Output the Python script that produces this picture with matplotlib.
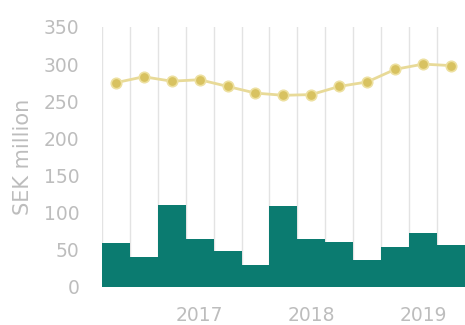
import numpy as np
import matplotlib
matplotlib.use("Agg")
import matplotlib.pyplot as plt

# quarterly values, SEK million
bars = [59, 40, 110, 64, 48, 30, 109, 65, 60, 36, 54, 72, 57]
line = [275, 283, 277, 279, 270, 261, 258, 259, 270, 276, 293, 300, 298]
year_pos = [3, 7, 11]
year_labels = ["2017", "2018", "2019"]

plt.rcParams['font.family'] = ['DejaVu Sans']
grey = "#bdbdbd"

fig = plt.figure(figsize=(4.65, 3.25), dpi=100)
ax = fig.add_axes([0.219, 0.117, 0.781, 0.8])

x = np.arange(len(bars))

# vertical gridlines at bar edges
for e in x - 0.5:
    ax.axvline(e, color="#e3e3e3", lw=1.0, zorder=0)

ax.bar(x, bars, width=1.0, color="#0b7b70", edgecolor="none", zorder=2)
ax.plot(x, line, color="#e8da98", lw=2.0, zorder=3)
ax.plot(x, line, "o", ms=7.5, mfc="#d8c260", mec="#ede0a0", mew=1.2, zorder=4)

ax.set_xlim(-0.5, 12.5)
ax.set_ylim(0, 350)
ax.set_yticks(range(0, 351, 50))
ax.set_xticks(year_pos)
ax.set_xticklabels(year_labels)
ax.tick_params(axis="both", length=0, colors=grey, labelsize=13.5)
ax.tick_params(axis="y", pad=16)
ax.tick_params(axis="x", pad=14)
ax.set_ylabel("SEK million", color=grey, fontsize=15, labelpad=8)
for s in ax.spines.values():
    s.set_visible(False)

fig.savefig("out.png", dpi=100)
